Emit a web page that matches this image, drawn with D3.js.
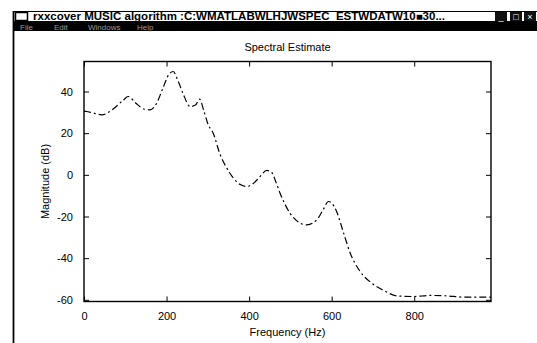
<!DOCTYPE html>
<html><head><meta charset="utf-8">
<script src="https://cdn.jsdelivr.net/npm/d3@7"></script>
<style>body{margin:0;background:#fff}svg{display:block;font-family:"Liberation Sans",Arial,sans-serif}</style>
</head><body>
<svg id="c" width="537" height="343"></svg>
<script>
const freqHz = [0, 6, 20, 43, 70, 95, 107, 125, 145, 160, 175, 190, 205, 216, 228, 240, 257, 270, 280, 290, 301, 313, 330, 346, 362, 380, 394, 410, 423, 443, 455, 465, 475, 499, 524, 540, 564, 580, 592, 600, 612, 629, 645, 669, 697, 726, 758, 798, 839, 879, 920, 968, 986];
const magDb = [30.6, 30.4, 29.8, 28.8, 31.5, 35.8, 37.6, 34.5, 31.6, 31.2, 34, 41, 48, 49.6, 45, 39, 32.8, 33.5, 36.3, 31, 24, 20, 9.6, 3.2, -1.6, -4.8, -5.6, -4.2, -1.6, 2.1, 1.1, -3.5, -8.8, -18.4, -23.2, -24, -21.6, -16.5, -12.8, -13.5, -17.6, -28, -37.6, -46.4, -52, -55.5, -58.1, -58.4, -57.9, -58.1, -58.7, -58.7, -58.7];
const xTicks = [0, 200, 400, 600, 800];
const yTicks = [-60, -40, -20, 0, 20, 40];
const titleText = "Spectral Estimate";
const xLabel = "Frequency (Hz)";
const yLabel = "Magnitude (dB)";
const windowTitle = "rxxcover MUSIC algorithm :C:WMATLABWLHJWSPEC_ESTWDATW10\u25A030...";
const menuItems = ["File", "Edit", "Windows", "Help"];

const svg = d3.select("#c");
// window frame
svg.append("line").attr("x1",13.5).attr("x2",13.5).attr("y1",11).attr("y2",343).attr("stroke","#000").attr("stroke-width",1.8);
svg.append("line").attr("x1",13).attr("x2",537).attr("y1",11.5).attr("y2",11.5).attr("stroke","#000").attr("stroke-width",1);
svg.append("rect").attr("x",13).attr("y",21).attr("width",524).attr("height",10).attr("fill","#000");
svg.append("rect").attr("x",15.5).attr("y",12.5).attr("width",12).attr("height",8).attr("fill","#fff").attr("stroke","#000").attr("stroke-width",1.5);
svg.append("text").attr("x",33).attr("y",19.5).attr("font-size",10).attr("font-weight","bold").attr("textLength",412).attr("lengthAdjust","spacingAndGlyphs").text(windowTitle);
[[495,"_"],[510,"\u25A1"],[524,"\u00D7"]].forEach(([x,s])=>{
  svg.append("rect").attr("x",x).attr("y",12).attr("width",12).attr("height",9).attr("fill","#111");
  svg.append("text").attr("x",x+6).attr("y",19.5).attr("font-size",9).attr("fill","#fff").attr("text-anchor","middle").text(s);
});
let mx = 20;
menuItems.forEach(m=>{
  svg.append("text").attr("x",mx).attr("y",29.5).attr("font-size",8).attr("fill","#999").text(m);
  mx += m.length*5+14;
});

const L=84, R=491, T=61.5, B=301.5;
const x = d3.scaleLinear().domain([0, 986]).range([L, R]);
const y = d3.scaleLinear().domain([-60.8, 54.4]).range([B, T]);

const g = svg.append("g");
g.append("rect").attr("x",L).attr("y",T).attr("width",R-L).attr("height",B-T).attr("fill","none").attr("stroke","#000").attr("stroke-width",1.4);

const ax = d3.axisBottom(x).tickValues(xTicks).tickSize(-5).tickPadding(11).tickFormat(d3.format("d"));
g.append("g").attr("transform",`translate(0,${B})`).call(ax).call(s=>{s.select(".domain").remove();s.selectAll("text").attr("font-size",11).attr("font-family","Liberation Sans, Arial, sans-serif");});
g.append("g").attr("transform",`translate(0,${T})`).call(d3.axisTop(x).tickValues(xTicks).tickSize(-5).tickFormat("")).call(s=>s.select(".domain").remove());
const ay = d3.axisLeft(y).tickValues(yTicks).tickSize(-5).tickPadding(11).tickFormat(d=>d);
g.append("g").attr("transform",`translate(${L},0)`).call(ay).call(s=>{s.select(".domain").remove();s.selectAll("text").attr("font-size",11).attr("font-family","Liberation Sans, Arial, sans-serif");});
g.append("g").attr("transform",`translate(${R},0)`).call(d3.axisRight(y).tickValues(yTicks).tickSize(-5).tickFormat("")).call(s=>s.select(".domain").remove());

const line = d3.line().x((d,i)=>x(freqHz[i])).y(d=>y(d)).curve(d3.curveMonotoneX);
g.append("path").datum(magDb).attr("d",line).attr("fill","none").attr("stroke","#000").attr("stroke-width",1.2).attr("stroke-dasharray","7,3,2,3");

svg.append("text").attr("x",(L+R)/2).attr("y",51).attr("text-anchor","middle").attr("font-size",11).text(titleText);
svg.append("text").attr("x",(L+R)/2).attr("y",336).attr("text-anchor","middle").attr("font-size",11).text(xLabel);
svg.append("text").attr("transform",`translate(49,${(T+B)/2}) rotate(-90)`).attr("text-anchor","middle").attr("font-size",11).text(yLabel);
</script>
</body></html>
